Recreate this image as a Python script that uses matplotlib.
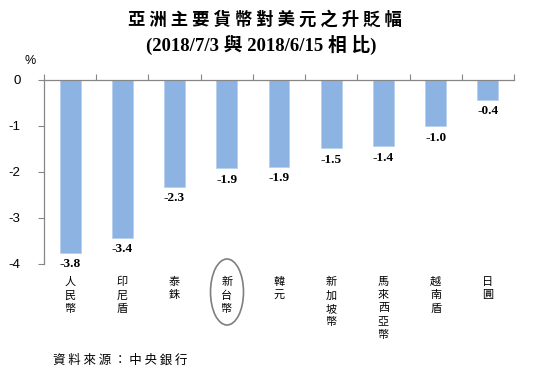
import numpy as np
import matplotlib.pyplot as plt
from matplotlib.patches import Ellipse
from matplotlib.transforms import blended_transform_factory

plt.rcParams['font.family'] = ['Noto Sans CJK TC', 'DejaVu Sans']

currencies = ['人民幣', '印尼盾', '泰銖', '新台幣', '韓元', '新加坡幣', '馬來西亞幣', '越南盾', '日圓']
changes = [-3.76, -3.43, -2.32, -1.92, -1.89, -1.48, -1.44, -1.01, -0.43]
yticks = [0, -1, -2, -3, -4]

fig = plt.figure(figsize=(5.36, 3.75), dpi=100)
ax = fig.add_axes([44/536, 1-264/375, 470/536, 184/375])

x = np.arange(len(currencies))
ax.bar(x, changes, width=0.4, color='#8DB3E2', edgecolor='#B8D0EE', linewidth=0.6)
ax.set_xlim(-0.5, len(currencies)-0.5)
ax.set_ylim(-4, 0)

for s in ['bottom', 'right']:
    ax.spines[s].set_visible(False)
for s in ['left', 'top']:
    ax.spines[s].set_color('#868686')
    ax.spines[s].set_linewidth(0.9)

ax.set_yticks(yticks)
ax.set_yticklabels([str(v) for v in yticks], family='Liberation Sans', fontsize=9.5)
ax.tick_params(axis='y', length=4, color='#868686', pad=13)
ax.xaxis.tick_top()
ax.set_xticks(np.arange(len(currencies)+1)-0.5)
ax.set_xticklabels([])
ax.tick_params(axis='x', length=4, color='#868686', direction='out')

for xi, v in zip(x, changes):
    ax.text(xi, v-0.12, f'{v:.1f}', ha='center', va='top',
            family='Liberation Serif', fontweight='bold', fontsize=9.5)

tr = blended_transform_factory(ax.transData, fig.transFigure)
for xi, name in zip(x, currencies):
    ax.text(xi, 1-277/375, '\n'.join(name), ha='center', va='top', transform=tr,
            fontsize=8, linespacing=1.4)

ax.add_patch(Ellipse((227/536, 1-292/375), 33/536, 66/375, transform=fig.transFigure,
                     fill=False, edgecolor='#7F7F7F', linewidth=1.2, clip_on=False))

fig.text(0.495, 1-20/375, ' '.join('亞洲主要貨幣對美元之升貶幅'), ha='center', va='center',
         fontsize=12.5, fontweight='bold')
fig.text(0.488, 1-45/375, '(2018/7/3 與 2018/6/15 相 比)', ha='center', va='center',
         fontsize=13.5, fontweight='bold', family=['Liberation Serif', 'Noto Sans CJK TC'])
fig.text(30/536, 1-61/375, '%', ha='center', va='center', family='Liberation Sans', fontsize=9)
fig.text(53/536, 1-360/375, ' '.join('資料來源：中央銀行'), ha='left', va='center', fontsize=9)

fig.savefig('out.png', dpi=100)
